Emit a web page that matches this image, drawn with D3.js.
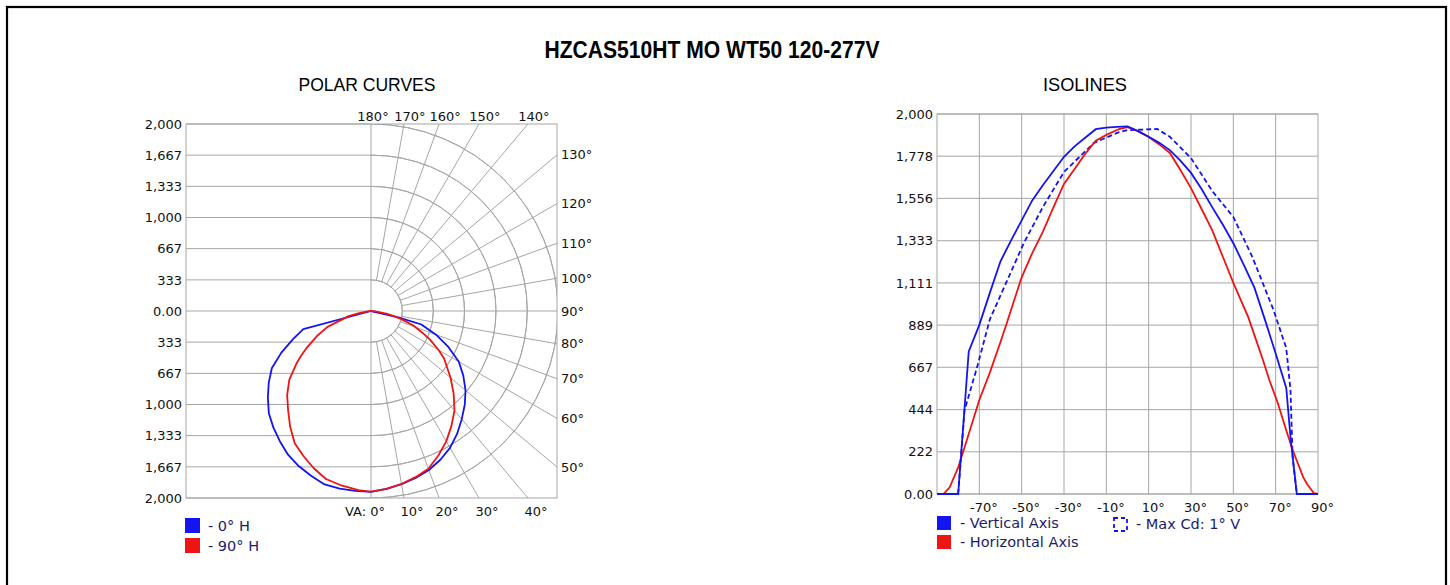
<!DOCTYPE html>
<html>
<head>
<meta charset="utf-8">
<script src="https://cdn.jsdelivr.net/npm/d3@7/dist/d3.min.js"></script>
<style>
  html, body { margin: 0; padding: 0; background: #fff; }
  svg { display: block; }
  .tick-label { font-family: "DejaVu Sans", sans-serif; font-size: 13px; fill: #111; }
  .legend-label { font-family: "DejaVu Sans", sans-serif; font-size: 14.5px; fill: #1c1c6c; }
  .grid { stroke: #a6a6a6; stroke-width: 1; fill: none; }
</style>
</head>
<body>
<div id="chart"></div>
<script>
// vertical angles (deg) and candela for each curve
const vaVertical = [-90, -80, -75, -70, -65, -60, -55, -50, -45, -40, -35, -30, -25, -20, -15, -10, -5, 0,
  5, 10, 15, 20, 25, 30, 35, 40, 45, 50, 55, 60, 65, 70, 75, 77, 80, 90];
const cdVertical = [0, 0, 750, 890, 1060, 1225, 1335, 1440, 1545, 1625, 1700, 1775, 1830, 1875, 1920, 1928, 1932, 1935,
  1910, 1880, 1848, 1810, 1755, 1690, 1605, 1510, 1418, 1320, 1205, 1085, 915, 740, 558, 300, 0, 0];

const vaHorizontal = [-90, -87, -84, -80, -77, -70, -65, -60, -57, -55, -50, -45, -40, -35, -30, -25, -20, -15, -10, -4, 0,
  5, 10, 15, 20, 25, 30, 35, 40, 45, 50, 57, 60, 64, 67, 71, 75, 78, 80, 83, 85, 88, 90];
const cdHorizontal = [0, 0, 35, 140, 245, 495, 640, 800, 900, 970, 1140, 1268, 1380, 1508, 1632, 1711, 1790, 1860, 1890, 1921, 1931,
  1910, 1879, 1840, 1795, 1705, 1610, 1500, 1389, 1250, 1111, 932, 835, 705, 600, 479, 335, 232, 175, 89, 50, 5, 0];

const vaMaxCd = [-80, -78, -77, -71, -65, -60, -49, -40, -30, -16, -4, 0, 14, 20, 30, 40, 50, 59, 69, 75, 77, 78, 80];
const cdMaxCd = [0, 290, 440, 670, 920, 1045, 1320, 1510, 1695, 1847, 1905, 1915, 1921, 1880, 1768, 1595, 1458, 1247, 968, 768, 547, 195, 0];

const polarTicks = [2000, 1667, 1333, 1000, 667, 333, 0, -333, -667, -1000, -1333, -1667, -2000];
const polarRings = [333, 667, 1000, 1333, 1667, 2000];
const topAngles = [180, 170, 160, 150, 140];
const sideAngles = [130, 120, 110, 100, 90, 80, 70, 60, 50];
const bottomAngles = [0, 10, 20, 30, 40];

const isoYTicks = [0, 222, 444, 667, 889, 1111, 1333, 1556, 1778, 2000];
const isoXTicks = [-70, -50, -30, -10, 10, 30, 50, 70, 90];

const titleText = "HZCAS510HT MO WT50 120-277V";
const BLUE = "#1414f0", RED = "#ee1414";

const W = 1450, H = 585;
const svg = d3.select("#chart").append("svg").attr("width", W).attr("height", H);

// outer frame
svg.append("rect").attr("x", 7).attr("y", 7).attr("width", 1439).attr("height", 620)
  .attr("fill", "none").attr("stroke", "#000").attr("stroke-width", 2.2);

const narrow = '"Liberation Sans Narrow", "Arial Narrow", "Liberation Sans", Arial, sans-serif';
svg.append("text").attr("x", 712).attr("y", 58).attr("text-anchor", "middle")
  .attr("font-family", narrow).attr("font-weight", "bold").attr("font-size", 23)
  .attr("textLength", 335).attr("lengthAdjust", "spacingAndGlyphs").text(titleText);
svg.append("text").attr("x", 367).attr("y", 91).attr("text-anchor", "middle")
  .attr("font-family", narrow).attr("font-size", 19)
  .attr("textLength", 137).attr("lengthAdjust", "spacingAndGlyphs").text("POLAR CURVES");
svg.append("text").attr("x", 1085).attr("y", 91).attr("text-anchor", "middle")
  .attr("font-family", narrow).attr("font-size", 19)
  .attr("textLength", 84).attr("lengthAdjust", "spacingAndGlyphs").text("ISOLINES");

const fmt = v => v === 0 ? "0.00" : d3.format(",")(Math.abs(v));
const rad = d => d * Math.PI / 180;

// ---------- polar curves ----------
function drawPolar() {
  const left = 186, right = 557, cx = 371, cy = 311;
  const y = d3.scaleLinear().domain([-2000, 2000]).range([498, 124]);
  const r = d3.scaleLinear().domain([0, 2000]).range([0, 498 - cy]);
  const top = y(2000), bottom = y(-2000);

  const g = svg.append("g");
  svg.append("clipPath").attr("id", "polar-clip").append("rect")
    .attr("x", left).attr("y", top).attr("width", right - left).attr("height", bottom - top);

  // cartesian half
  g.selectAll(".hgrid").data(polarTicks).join("line").attr("class", "grid")
    .attr("x1", left).attr("x2", cx).attr("y1", d => y(d)).attr("y2", d => y(d));
  g.append("line").attr("class", "grid").attr("x1", cx).attr("x2", cx).attr("y1", top).attr("y2", bottom);

  // polar half
  const pg = g.append("g").attr("clip-path", "url(#polar-clip)")
    .append("g").attr("transform", `translate(${cx},${cy})`);
  const arc = d3.arc().startAngle(0).endAngle(Math.PI);
  pg.selectAll(".ring").data(polarRings).join("path").attr("class", "grid")
    .attr("d", d => arc({ innerRadius: r(d), outerRadius: r(d) }));
  const spokes = d3.range(10, 180, 10);
  pg.selectAll(".spoke").data(spokes).join("line").attr("class", "grid")
    .attr("x1", a => r(333) * Math.sin(rad(a))).attr("y1", a => r(333) * Math.cos(rad(a)))
    .attr("x2", a => 600 * Math.sin(rad(a))).attr("y2", a => 600 * Math.cos(rad(a)));

  g.append("rect").attr("class", "grid").attr("x", left).attr("y", top)
    .attr("width", right - left).attr("height", bottom - top);

  // left axis labels
  g.append("g").attr("transform", `translate(${left},0)`)
    .call(d3.axisLeft(y).tickValues(polarTicks).tickFormat(fmt).tickSize(0).tickPadding(4))
    .call(a => a.select(".domain").remove())
    .selectAll("text").attr("class", "tick-label").attr("font-family", null).attr("font-size", null);

  // angle labels
  const dTop = cy - top, dSide = right - cx, dBot = bottom - cy;
  g.selectAll(".lt").data(topAngles).join("text").attr("class", "tick-label")
    .attr("text-anchor", "middle").attr("y", top - 3)
    .attr("x", a => cx + dTop * Math.tan(rad(180 - a)) + (a === 180 ? 2 : 6))
    .text(a => a + "°");
  g.selectAll(".ls").data(sideAngles).join("text").attr("class", "tick-label")
    .attr("x", right + 4).attr("dy", "0.35em")
    .attr("y", a => cy - dSide * Math.tan(rad(a - 90)))
    .text(a => a + "°");
  g.selectAll(".lb").data(bottomAngles).join("text").attr("class", "tick-label")
    .attr("text-anchor", a => a === 0 ? "end" : "middle").attr("y", bottom + 18)
    .attr("x", a => a === 0 ? cx + 14 : cx + dBot * Math.tan(rad(a)) + 8)
    .text(a => (a === 0 ? "VA: " : "") + a + "°");

  // curves
  const line = d3.lineRadial().angle(d => Math.PI - rad(d[0])).radius(d => r(d[1]));
  const curves = [
    { va: vaVertical, cd: cdVertical, color: BLUE },
    { va: vaHorizontal, cd: cdHorizontal, color: RED }
  ];
  g.append("g").attr("transform", `translate(${cx},${cy})`)
    .selectAll("path").data(curves).join("path")
    .attr("fill", "none").attr("stroke", d => d.color).attr("stroke-width", 1.8)
    .attr("stroke-linejoin", "round")
    .attr("d", d => line(d.va.map((v, i) => [v, d.cd[i]])));

  // legend
  const leg = [{ label: "- 0° H", color: BLUE }, { label: "- 90° H", color: RED }];
  const lg = g.selectAll(".leg").data(leg).join("g")
    .attr("transform", (d, i) => `translate(185,${518 + i * 20})`);
  lg.append("rect").attr("width", 15).attr("height", 15).attr("fill", d => d.color);
  lg.append("text").attr("class", "legend-label").attr("x", 23).attr("y", 7.5).attr("dy", "0.36em")
    .text(d => d.label);
}

// ---------- isolines ----------
function drawIso() {
  const x = d3.scaleLinear().domain([-90, 90]).range([937, 1318]);
  const y = d3.scaleLinear().domain([0, 2000]).range([494, 114]);
  const g = svg.append("g");

  g.selectAll(".vg").data(isoXTicks.filter(d => d < 90)).join("line").attr("class", "grid")
    .attr("x1", d => x(d)).attr("x2", d => x(d)).attr("y1", y(0)).attr("y2", y(2000));
  g.selectAll(".hg").data(isoYTicks).join("line").attr("class", "grid")
    .attr("x1", x(-90)).attr("x2", x(90)).attr("y1", d => y(d)).attr("y2", d => y(d));
  g.append("rect").attr("class", "grid").attr("x", x(-90)).attr("y", y(2000))
    .attr("width", x(90) - x(-90)).attr("height", y(0) - y(2000));

  g.append("g").attr("transform", `translate(${x(-90)},0)`)
    .call(d3.axisLeft(y).tickValues(isoYTicks).tickFormat(fmt).tickSize(0).tickPadding(4))
    .call(a => a.select(".domain").remove())
    .selectAll("text").attr("class", "tick-label").attr("font-family", null).attr("font-size", null);

  g.append("g").attr("transform", `translate(4,${y(0)})`)
    .call(d3.axisBottom(x).tickValues(isoXTicks).tickFormat(d => d + "°").tickSize(0).tickPadding(9))
    .call(a => a.select(".domain").remove())
    .selectAll("text").attr("class", "tick-label").attr("font-family", null).attr("font-size", null);

  const line = d3.line().x(d => x(d[0])).y(d => y(d[1]));
  const curves = [
    { va: vaMaxCd, cd: cdMaxCd, color: BLUE, dash: "5,3" },
    { va: vaHorizontal, cd: cdHorizontal, color: RED, dash: null },
    { va: vaVertical, cd: cdVertical, color: BLUE, dash: null }
  ];
  g.append("g").selectAll("path").data(curves).join("path")
    .attr("fill", "none").attr("stroke", d => d.color).attr("stroke-width", 1.8)
    .attr("stroke-dasharray", d => d.dash)
    .attr("d", d => line(d.va.map((v, i) => [v, d.cd[i]])));

  // legend
  const leg = [
    { label: "- Vertical Axis", color: BLUE, lx: 937, ly: 516 },
    { label: "- Horizontal Axis", color: RED, lx: 937, ly: 535 }
  ];
  const lg = g.selectAll(".leg").data(leg).join("g")
    .attr("transform", d => `translate(${d.lx},${d.ly})`);
  lg.append("rect").attr("width", 14).attr("height", 14).attr("fill", d => d.color);
  lg.append("text").attr("class", "legend-label").attr("x", 23).attr("y", 7).attr("dy", "0.36em")
    .text(d => d.label);

  const dl = g.append("g").attr("transform", "translate(1113,517)");
  dl.append("rect").attr("x", 1).attr("y", 1).attr("width", 13).attr("height", 13)
    .attr("fill", "none").attr("stroke", BLUE).attr("stroke-width", 1.8).attr("stroke-dasharray", "4,3");
  dl.append("text").attr("class", "legend-label").attr("x", 23).attr("y", 7).attr("dy", "0.36em")
    .text("- Max Cd: 1° V");
}

drawPolar();
drawIso();
</script>
</body>
</html>
